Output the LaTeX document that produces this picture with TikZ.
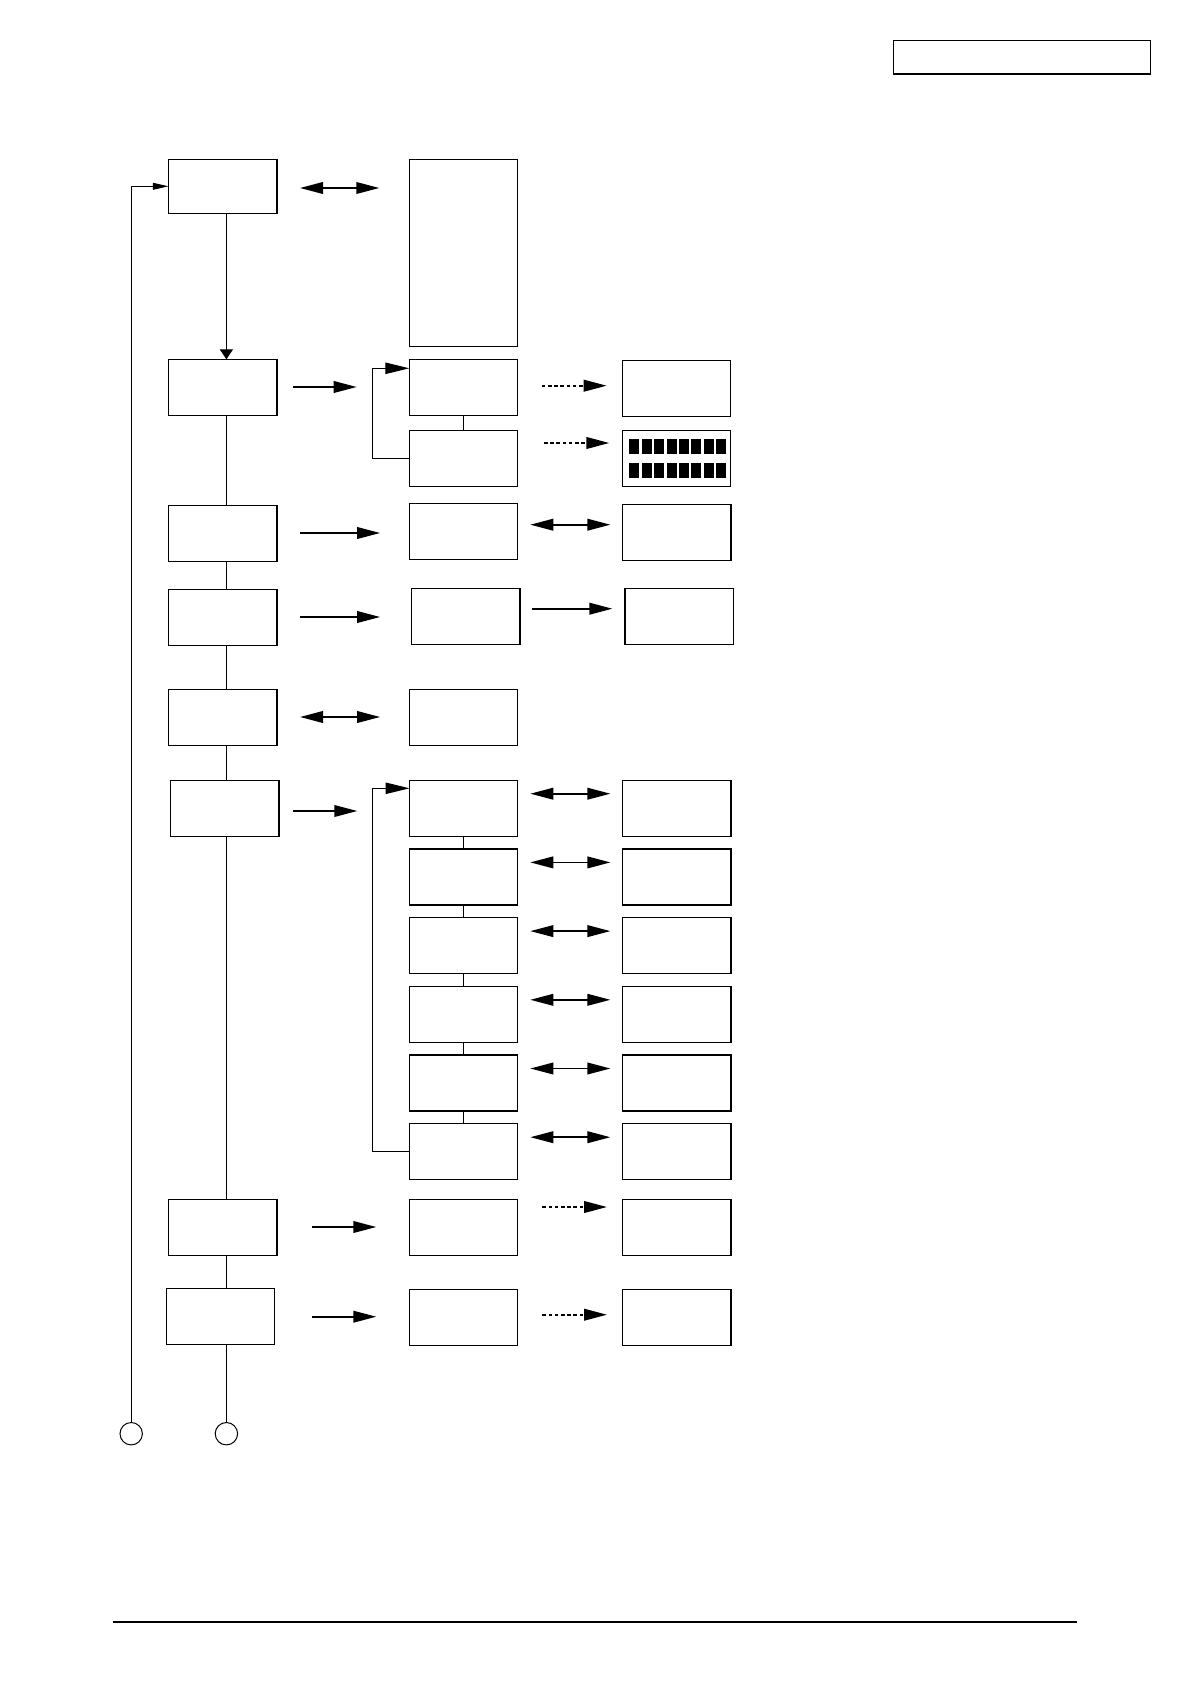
\documentclass[tikz,border=0pt]{standalone}
\usetikzlibrary{arrows.meta,calc}
\tikzset{
  box/.style={draw, rectangle, line width=0.65pt, inner sep=0pt, outer sep=0pt},
  thinline/.style={line width=0.5pt},
  bigtip/.tip={Triangle[length=11.5pt,width=5.8pt]},
  arr/.style={line width=0.9pt, -bigtip},
  darr/.style={line width=0.9pt, bigtip-bigtip},
  dotarr/.style={line width=1pt, dash pattern=on 1.8pt off 1.3pt, -bigtip},
  loopa/.style={thinline, -{Triangle[length=12pt,width=5.7pt]}},
  ring/.style={draw, circle, line width=0.5pt, minimum size=11.2pt, inner sep=0pt, outer sep=0pt}
}
\newcommand{\bx}[5]{%
  \pgfmathsetmacro{\bxw}{(#4-#2)*0.5}%
  \pgfmathsetmacro{\bxh}{(#5-#3)*0.5}%
  \node[box, minimum width=\bxw pt, minimum height=\bxh pt] (#1) at ({(#2+#4)/2},{(#3+#5)/2}) {};}
\begin{document}
\begin{tikzpicture}[x=0.5pt,y=-0.5pt]
\useasboundingbox (0,0) rectangle (1190,1684);
% header box and footer rule
\bx{H}{893.3}{40.3}{1150.3}{74}
\coordinate (fl) at (112.8,1622);
\coordinate (fr) at (1076.5,1622);
\draw[line width=0.7pt] (fl) -- (fr);
% column A
\bx{A1}{168.5}{159.3}{277}{213.3}
\bx{A2}{168.5}{359.3}{277}{415.3}
\bx{A3}{168.5}{505.3}{277}{561.3}
\bx{A4}{168.5}{589.3}{277}{645.3}
\bx{A5}{168.5}{689.3}{277}{745.3}
\bx{A6}{170.5}{780.3}{279}{836.3}
\bx{A7}{168.5}{1199.3}{277}{1255.3}
\bx{A8}{166.4}{1288.3}{274.7}{1344.3}
% column B
\bx{T}{409.3}{159.3}{517.7}{346.3}
\bx{B1}{409.3}{359.3}{517.7}{415.3}
\bx{B2}{409.3}{430.3}{517.7}{486.3}
\bx{B3}{409.5}{503.3}{517.8}{559.3}
\bx{B4}{411.6}{588.3}{519.9}{644.3}
\bx{B5}{409.5}{689.3}{517.8}{745.3}
\bx{D1}{409.5}{780.3}{517.8}{836.3}
\bx{D2}{409.5}{849.0}{517.8}{905.0}
\bx{D3}{409.5}{917.7}{517.8}{973.7}
\bx{D4}{409.5}{986.4}{517.8}{1042.4}
\bx{D5}{409.5}{1055.1}{517.8}{1111.1}
\bx{D6}{409.5}{1123.8}{517.8}{1179.8}
\bx{B7}{409.5}{1199.3}{517.8}{1255.3}
\bx{B8}{409.5}{1289.3}{517.8}{1345.3}
% column C
\bx{C1}{622.3}{360.3}{730.7}{416.3}
\bx{C2}{622.3}{430.3}{730.7}{486.3}
\bx{C3}{622.8}{504.3}{731.1}{560.3}
\bx{C4}{624.9}{588.3}{733.2}{644.3}
\bx{E1}{622.8}{780.3}{731.1}{836.3}
\bx{E2}{622.8}{849.0}{731.1}{905.0}
\bx{E3}{622.8}{917.7}{731.1}{973.7}
\bx{E4}{622.8}{986.4}{731.1}{1042.4}
\bx{E5}{622.8}{1055.1}{731.1}{1111.1}
\bx{E6}{622.8}{1123.8}{731.1}{1179.8}
\bx{C7}{622.8}{1199.3}{731.1}{1255.3}
\bx{C8}{622.8}{1289.3}{731.1}{1345.3}
% display blocks in C2
\foreach \i in {0,...,7} {
  \fill ({629.3+\i*12.43},439.3) rectangle ({639.3+\i*12.43},454.3);
  \fill ({629.3+\i*12.43},463) rectangle ({639.3+\i*12.43},477.7);
}
% end circles
\node[ring] (c1) at (131.2,1433.7) {};
\node[ring] (c2) at (226.4,1433.7) {};
% main vertical line
\coordinate (lx) at (226.4,0);
\draw[thinline, -{Triangle[length=5pt,width=6.6pt]}] (A1.south -| lx) -- (A2.north -| lx);
\draw[thinline] (A2.south -| lx) -- (A3.north -| lx);
\draw[thinline] (A3.south -| lx) -- (A4.north -| lx);
\draw[thinline] (A4.south -| lx) -- (A5.north -| lx);
\draw[thinline] (A5.south -| lx) -- (A6.north -| lx);
\draw[thinline] (A6.south -| lx) -- (A7.north -| lx);
\draw[thinline] (A7.south -| lx) -- (A8.north -| lx);
\draw[thinline] (A8.south -| lx) -- (c2.north);
% return loop to A1
\draw[thinline, -{Triangle[length=7.8pt,width=3.4pt]}] (c1.north) |- (A1.west);
% sub-loops
\draw[loopa] (B2.west) -- ++(-36.6,0) |- ([yshift=9.5pt]B1.west);
\draw[loopa] (D6.west) -- ++(-36.9,0) |- ([yshift=10pt]D1.west);
% vertical links in B/D column
\draw[thinline] (B1.south) -- (B2.north);
\draw[thinline] (D1.south) -- (D2.north);
\draw[thinline] (D2.south) -- (D3.north);
\draw[thinline] (D3.south) -- (D4.north);
\draw[thinline] (D4.south) -- (D5.north);
\draw[thinline] (D5.south) -- (D6.north);
% horizontal arrows
\draw[darr] ($(A1.east |- 0,188)+(23,0)$) -- ($(T.west |- 0,188)+(-30,0)$);
\draw[arr] ($(A2.east |- 0,387)+(16.3,0)$) -- ($(B1.west |- 0,387)+(-52.6,0)$);
\draw[dotarr] ($(B1.east |- 0,385.7)+(24,0)$) -- ($(C1.west |- 0,385.7)+(-15.6,0)$);
\draw[dotarr] ($(B2.east |- 0,443)+(26.3,0)$) -- ($(C2.west |- 0,443)+(-13,0)$);
\draw[arr] ($(A3.east |- 0,533)+(23,0)$) -- ($(B3.west |- 0,533)+(-29.4,0)$);
\draw[darr] ($(B3.east |- 0,524.7)+(12.5,0)$) -- ($(C3.west |- 0,524.7)+(-12.4,0)$);
\draw[arr] ($(A4.east |- 0,617)+(23,0)$) -- ($(B4.west |- 0,617)+(-31.5,0)$);
\draw[arr] ($(B4.east |- 0,608.7)+(12.5,0)$) -- ($(C4.west |- 0,608.7)+(-12.5,0)$);
\draw[darr] ($(A5.east |- 0,717)+(23,0)$) -- ($(B5.west |- 0,717)+(-29.4,0)$);
\draw[arr] ($(A6.east |- 0,811)+(14.4,0)$) -- ($(D1.west |- 0,811)+(-52.2,0)$);
\foreach \n/\yy in {1/793.7,2/862.4,3/931.1,4/999.8,5/1068.5,6/1137.2} {
  \draw[darr] ($(D\n.east |- 0,\yy)+(12.5,0)$) -- ($(E\n.west |- 0,\yy)+(-12.4,0)$);
}
\draw[arr] ($(A7.east |- 0,1227)+(35,0)$) -- ($(B7.west |- 0,1227)+(-33.2,0)$);
\draw[dotarr] ($(B7.east |- 0,1207)+(24.5,0)$) -- ($(C7.west |- 0,1207)+(-15.8,0)$);
\draw[arr] ($(A8.east |- 0,1316.7)+(37.3,0)$) -- ($(B8.west |- 0,1316.7)+(-33.2,0)$);
\draw[dotarr] ($(B8.east |- 0,1314.7)+(24.5,0)$) -- ($(C8.west |- 0,1314.7)+(-15.8,0)$);
\end{tikzpicture}
\end{document}
